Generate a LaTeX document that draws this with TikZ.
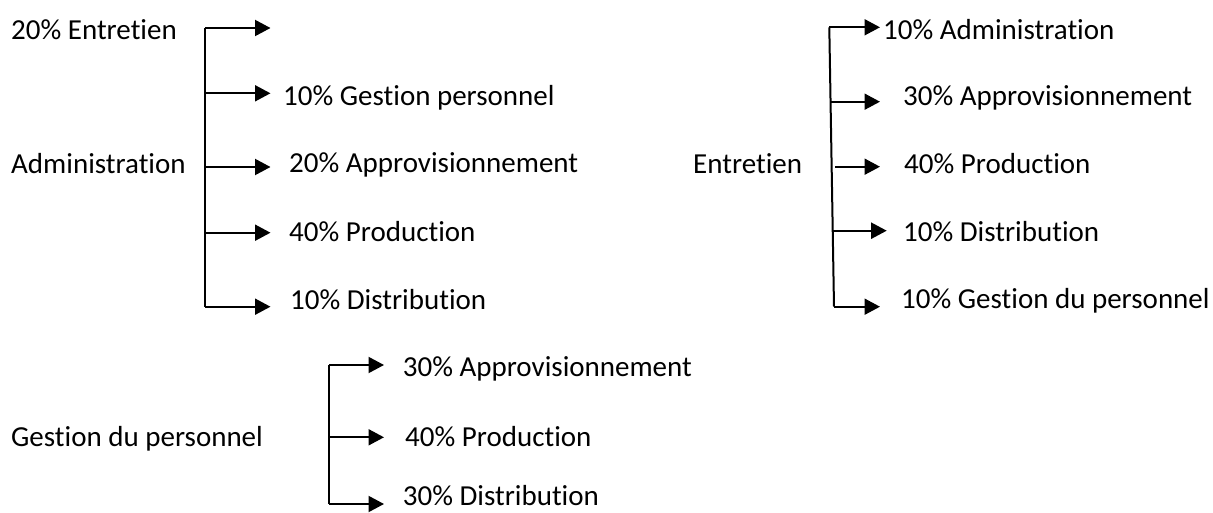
\documentclass[tikz,border=0pt]{standalone}
\usepackage{fontspec}
\setmainfont{Carlito}[Ligatures=NoCommon]
\usetikzlibrary{arrows.meta}
\tikzset{
  lbl/.style={anchor=base west,inner sep=0pt,font=\fontsize{29}{34}\selectfont},
  brace/.style={line width=2pt},
  arr/.style={line width=2pt,-{Triangle[length=15.5pt,width=16pt]}}
}
\begin{document}
\begin{tikzpicture}[x=1pt,y=-1pt]
\useasboundingbox (0,0) rectangle (1213,513);
% ---------- Group 1 : Administration ----------
\node[lbl] (e20) at (11,39.3) {20\% Entretien};
\node[lbl] (adm) at (11,173.8) {Administration};
\node[lbl] (a1) at (283,105.8) {10\% Gestion personnel};
\node[lbl] (a2) at (289,172.3) {20\% Approvisionnement};
\node[lbl] (a3) at (289,241.8) {40\% Production};
\node[lbl] (a4) at (290,309.3) {10\% Distribution};
\coordinate (g1t) at (205,28);
\coordinate (g1b) at (205,306.7);
\coordinate (g1a) at (205,93.3);
\coordinate (g1c) at (205,167);
\coordinate (g1d) at (205,232.7);
\coordinate (t10) at (270.5,28);
\coordinate (t11) at (270.5,93.3);
\coordinate (t12) at (270.5,167);
\coordinate (t13) at (270.5,232.7);
\coordinate (t14) at (270.5,306.7);
\draw[brace] (g1t) -- (g1b);
\draw[arr] (g1t) -- (t10);
\draw[arr] (g1a) -- (t11);
\draw[arr] (g1c) -- (t12);
\draw[arr] (g1d) -- (t13);
\draw[arr] (g1b) -- (t14);
% ---------- Group 2 : Entretien ----------
\node[lbl] (ent) at (693,173.3) {Entretien};
\node[lbl] (b1) at (883,39.3) {10\% Administration};
\node[lbl] (b2) at (903,106) {30\% Approvisionnement};
\node[lbl] (b3) at (904,173.3) {40\% Production};
\node[lbl] (b4) at (903,241.3) {10\% Distribution};
\node[lbl] (b5) at (901,308.3) {10\% Gestion du personnel};
\coordinate (g2t) at (829.3,27.3);
\coordinate (g2b) at (834,306.7);
\coordinate (g2a) at (830.5,101.7);
\coordinate (g2c) at (835,166.7);
\coordinate (g2d) at (833,230.7);
\coordinate (t20) at (880,27.3);
\coordinate (t21) at (880,101.7);
\coordinate (t22) at (880,166.7);
\coordinate (t23) at (886.7,230.7);
\coordinate (t24) at (880,306.7);
\draw[brace] (g2t) -- (g2b);
\draw[arr] (g2t) -- (t20);
\draw[arr] (g2a) -- (t21);
\draw[arr] (g2c) -- (t22);
\draw[arr] (g2d) -- (t23);
\draw[arr] (g2b) -- (t24);
% ---------- Group 3 : Gestion du personnel ----------
\node[lbl] (gp) at (11,446.3) {Gestion du personnel};
\node[lbl] (c1) at (402.7,376.3) {30\% Approvisionnement};
\node[lbl] (c2) at (405,446.3) {40\% Production};
\node[lbl,text depth=0pt] (c3) at (402.7,505.5) {30\% Distribution};
\coordinate (g3t) at (329,365);
\coordinate (g3m) at (329,437.3);
\coordinate (g3b) at (329,504);
\coordinate (t30) at (384,365);
\coordinate (t31) at (384,437.3);
\coordinate (t32) at (384,504);
\draw[brace] (g3t) -- (g3b);
\draw[arr] (g3t) -- (t30);
\draw[arr] (g3m) -- (t31);
\draw[arr] (g3b) -- (t32);
\end{tikzpicture}
\end{document}
